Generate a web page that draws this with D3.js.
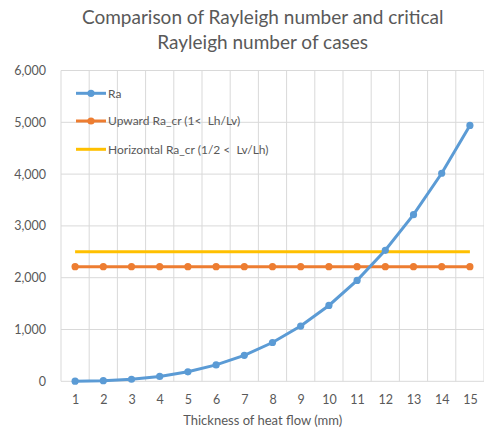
<!DOCTYPE html>
<html><head><meta charset="utf-8">
<script src="https://cdn.jsdelivr.net/npm/d3@7"></script>
<style>body{margin:0;background:#fff}svg{display:block;font-family:Lato,"Open Sans",sans-serif}text{white-space:pre}</style>
</head><body><svg id="c" width="484" height="427"></svg>
<script>
const thickness = [1,2,3,4,5,6,7,8,9,10,11,12,13,14,15];
const raValues = [1.5,12,40,94,183,316,502,749,1067,1464,1948,2529,3216,4016,4940];
const upwardRaCr = [2212,2212,2212,2212,2212,2212,2212,2212,2212,2212,2212,2212,2212,2212,2212];
const horizontalRaCr = [2500,2500,2500,2500,2500,2500,2500,2500,2500,2500,2500,2500,2500,2500,2500];
const yTicks = [0,1000,2000,3000,4000,5000,6000];
const titleLines = ["Comparison of Rayleigh number and critical","Rayleigh number of cases"];
const xTitle = "Thickness of heat flow (mm)";
const seriesNames = ["Ra","Upward Ra_cr (1<  Lh/Lv)","Horizontal Ra_cr (1/2 <  Lv/Lh)"];

const svg = d3.select("#c");
const L = 61, R = 484, T = 70.5, B = 381.3;
const x = d3.scalePoint().domain(thickness).range([L,R]).padding(0.5);
const y = d3.scaleLinear().domain([0,6000]).range([B,T]);
const step = x.step();
const grid = "#d9d9d9", txt = "#595959";

svg.append("g").selectAll("line").data(yTicks).join("line")
  .attr("x1",L).attr("x2",R).attr("y1",d=>y(d)).attr("y2",d=>y(d))
  .attr("stroke",grid).attr("stroke-width",1);
const bounds = thickness.map(d=>x(d)-step/2).concat([x(thickness[thickness.length-1])+step/2]);
svg.append("g").selectAll("line").data(bounds).join("line")
  .attr("x1",d=>d).attr("x2",d=>d).attr("y1",T).attr("y2",B)
  .attr("stroke",grid).attr("stroke-width",1);

const yAxis = d3.axisLeft(y).tickValues(yTicks).tickSize(0).tickPadding(0).tickFormat(d3.format(","));
const gy = svg.append("g").attr("transform",`translate(46,0)`).call(yAxis);
gy.select(".domain").remove();
gy.selectAll("text").attr("fill",txt).style("font-size","12.5px").style("font-family","Lato");

const xAxis = d3.axisBottom(x).tickSize(0).tickPadding(0);
const gx = svg.append("g").attr("transform",`translate(0,${B})`).call(xAxis);
gx.select(".domain").remove();
gx.selectAll("text").attr("fill",txt).attr("dy",null).attr("y",23).style("font-size","12.5px").style("font-family","Lato");

const line = (vals)=>d3.line().x((d,i)=>x(thickness[i])).y(d=>y(d))(vals);
svg.append("path").attr("d",line(horizontalRaCr)).attr("fill","none").attr("stroke","#FFC000").attr("stroke-width",3);
svg.append("path").attr("d",line(upwardRaCr)).attr("fill","none").attr("stroke","#ED7D31").attr("stroke-width",3);
svg.append("g").selectAll("circle").data(upwardRaCr).join("circle")
  .attr("cx",(d,i)=>x(thickness[i])).attr("cy",d=>y(d)).attr("r",3.6).attr("fill","#ED7D31");
svg.append("path").attr("d",line(raValues)).attr("fill","none").attr("stroke","#5B9BD5").attr("stroke-width",3);
svg.append("g").selectAll("circle").data(raValues).join("circle")
  .attr("cx",(d,i)=>x(thickness[i])).attr("cy",d=>y(d)).attr("r",3.6).attr("fill","#5B9BD5");

const legColors = ["#5B9BD5","#ED7D31","#FFC000"];
const legY = [93.3,121,149.3];
seriesNames.forEach((n,i)=>{
  const g = svg.append("g");
  g.append("line").attr("x1",76).attr("x2",106).attr("y1",legY[i]).attr("y2",legY[i]).attr("stroke",legColors[i]).attr("stroke-width",3);
  if(i<2) g.append("circle").attr("cx",91).attr("cy",legY[i]).attr("r",3.6).attr("fill",legColors[i]);
  g.append("text").attr("x",108).attr("y",legY[i]).attr("dy","0.35em").attr("fill",txt).style("font-size","12px").text(n);
});

svg.append("g").selectAll("text").data(titleLines).join("text")
  .attr("x",262.7).attr("y",(d,i)=>24+i*25).attr("text-anchor","middle").attr("fill",txt)
  .style("font-size","19px").text(d=>d);

svg.append("text").attr("x",262.7).attr("y",424.5).attr("text-anchor","middle").attr("fill",txt)
  .style("font-size","13px").text(xTitle);
</script></body></html>
